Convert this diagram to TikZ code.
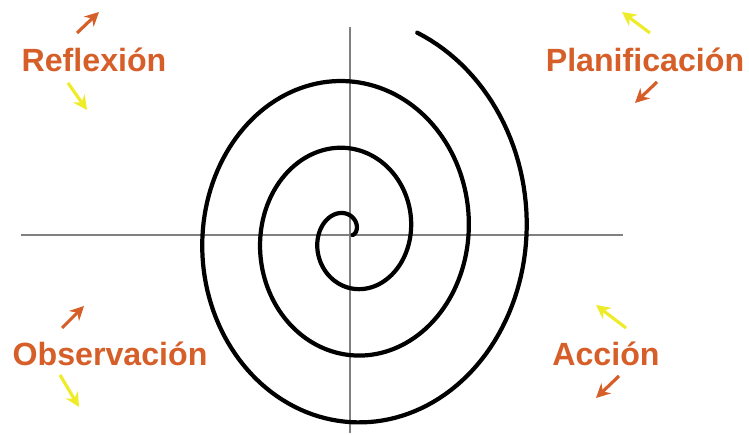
\documentclass[tikz,border=0pt]{standalone}
\usepackage{fontspec}
\newfontfamily\labelfont{Liberation Sans}
\usepackage{xcolor}
\usepackage{tikz}
\usetikzlibrary{arrows.meta}
\definecolor{phaseorange}{RGB}{214,94,40}
\definecolor{turnyellow}{RGB}{238,236,40}
\definecolor{axisgray}{RGB}{128,128,128}

\begin{document}
\begin{tikzpicture}[
  phase/.style={text=phaseorange, anchor=base, inner sep=0pt, font=\labelfont\bfseries\fontsize{18.3}{20}\selectfont},
  axisline/.style={draw=axisgray, line width=0.8pt},
  spiral/.style={line width=2.4pt, line cap=round},
  outarrow/.style={draw=phaseorange, line width=1.8pt, -{Stealth[length=8pt,width=8pt]}},
  inarrow/.style={draw=turnyellow, line width=1.8pt, -{Stealth[length=8pt,width=8pt]}}]

  \useasboundingbox (0,0) rectangle (14.98,8.7);

  \draw[axisline] (0.42,4) -- (12.46,4);
  \draw[axisline] (7,8.16) -- (7,0.04);

  \draw[spiral] plot[domain=0:1149, samples=500, variable=\t]
    ({(0.05+1.16*\t/360)*cos(\t)+7}, {1.155*(0.05+1.16*\t/360)*sin(\t)+4});

  \node (reflexion) [phase] at (1.88,7.26) {Reflexión};
  \node (planificacion) [phase] at (12.9,7.26) {Planificación};
  \node (observacion) [phase] at (2.2,1.38) {Observación};
  \node (accion) [phase] at (12.12,1.38) {Acción};

  \draw[outarrow] (1.54,8.04) -- (1.98,8.46);
  \draw[inarrow] (1.36,7.04) -- (1.74,6.5);
  \draw[inarrow] (13.0,8.04) -- (12.44,8.46);
  \draw[outarrow] (13.14,7.06) -- (12.7,6.64);
  \draw[outarrow] (1.24,2.14) -- (1.68,2.58);
  \draw[inarrow] (1.2,1.2) -- (1.58,0.56);
  \draw[inarrow] (12.52,2.14) -- (11.92,2.6);
  \draw[outarrow] (12.38,1.18) -- (11.92,0.74);
\end{tikzpicture}
\end{document}
